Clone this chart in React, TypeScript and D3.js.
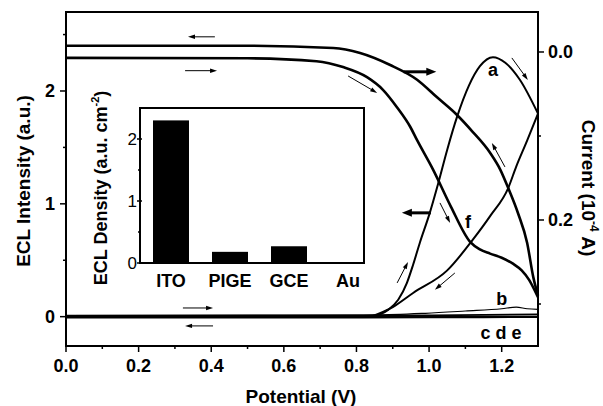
import React, { useEffect, useRef } from 'react';
import * as d3 from 'd3';

// main axes ticks
const xTicks = [0, 0.2, 0.4, 0.6, 0.8, 1.0, 1.2];
const xMinorTicks = [0.1, 0.3, 0.5, 0.7, 0.9, 1.1];
const leftTicks = [0, 1, 2];
const leftMinorTicks = [0.5, 1.5, 2.5];
const rightTicks = [0, 0.2];
const rightMinorTicks = [0.1, 0.3];

// ECL intensity (left axis) : [potential V, a.u.]
const eclAForward: [number, number][] = [
  [0.84, 0.0], [0.865, 0.02], [0.887, 0.06], [0.915, 0.15], [0.939, 0.3], [0.956, 0.46],
  [0.975, 0.66], [1.0, 0.9], [1.025, 1.18], [1.05, 1.48], [1.077, 1.77], [1.11, 2.05],
  [1.14, 2.22], [1.176, 2.3], [1.21, 2.25], [1.25, 2.1], [1.3, 1.8],
];
const eclAReverse: [number, number][] = [
  [0.84, 0.0], [0.9, 0.085], [0.956, 0.21], [1.05, 0.41], [1.12, 0.68], [1.17, 0.9],
  [1.218, 1.14], [1.24, 1.33], [1.27, 1.56], [1.3, 1.8],
];
const eclB: [number, number][] = [
  [0, 0.01], [0.85, 0.015], [0.99, 0.03], [1.1, 0.05], [1.2, 0.07], [1.24, 0.085],
  [1.27, 0.07], [1.3, 0.065],
];
const eclC: [number, number][] = [[0, 0.008], [0.6, 0.01], [1.0, 0.012], [1.3, 0.02]];
const eclD: [number, number][] = [[0, 0.0], [0.6, 0.0], [1.0, 0.0], [1.3, 0.0]];
const eclE: [number, number][] = [[0, -0.008], [0.6, -0.008], [1.0, -0.006], [1.3, -0.004]];

// current (right axis, 10^-4 A) : [potential V, current]
const currentForward: [number, number][] = [
  [0, 0.007], [0.5, 0.0075], [0.69, 0.011], [0.763, 0.018], [0.829, 0.03], [0.873, 0.045],
  [0.912, 0.066], [0.948, 0.089], [0.967, 0.105], [1.011, 0.14], [1.06, 0.184], [1.113, 0.226],
  [1.14, 0.235], [1.168, 0.24], [1.2, 0.245], [1.231, 0.252], [1.255, 0.26], [1.275, 0.271],
  [1.29, 0.283], [1.3, 0.292],
];
const currentReverse: [number, number][] = [
  [0, -0.0075], [0.5, -0.0075], [0.736, -0.0048], [0.81, 0.0012], [0.893, 0.0155],
  [0.967, 0.033], [1.022, 0.054], [1.077, 0.075], [1.12, 0.095], [1.168, 0.12], [1.196, 0.14],
  [1.218, 0.162], [1.245, 0.192], [1.27, 0.227], [1.287, 0.268], [1.3, 0.29],
];

// inset bar chart
const insetCategories = ['ITO', 'PIGE', 'GCE', 'Au'];
const insetValues = [2.3, 0.18, 0.27, 0];
const insetTicks = [0, 1, 2];
const insetMinorTicks = [0.5, 1.5];

// direction arrows in data units (left axis): from -> to
const arrows = [
  { from: [0.41, 2.48], to: [0.336, 2.48], thick: false },
  { from: [0.328, 2.18], to: [0.416, 2.18], thick: false },
  { from: [0.322, 0.077], to: [0.405, 0.077], thick: false },
  { from: [0.405, -0.082], to: [0.328, -0.082], thick: false },
  { from: [0.777, 2.133], to: [0.857, 1.983], thick: false },
  { from: [0.93, 2.17], to: [1.02, 2.17], thick: true },
  { from: [1.228, 2.293], to: [1.272, 2.098], thick: false },
  { from: [1.209, 1.327], to: [1.173, 1.539], thick: false },
  { from: [1.005, 0.92], to: [0.925, 0.92], thick: true },
  { from: [1.03, 1.008], to: [1.058, 0.83], thick: false },
  { from: [0.912, 0.299], to: [0.942, 0.485], thick: false },
  { from: [1.071, 0.387], to: [1.016, 0.238], thick: false },
];

const curveLabels = [
  { text: 'a', v: 1.176, i: 2.19 },
  { text: 'f', v: 1.107, i: 0.84 },
  { text: 'b', v: 1.2, i: 0.155 },
  { text: 'c d e', v: 1.198, i: -0.145 },
];

const font = '"Liberation Sans", Arial, Helvetica, sans-serif';

const App: React.FC = () => {
  const svgRef = useRef<SVGSVGElement>(null);

  useEffect(() => {
    if (!svgRef.current) return;
    const svg = d3.select(svgRef.current);
    svg.selectAll('*').remove();

    const left = 66, right = 538, top = 12, bottom = 346;

    const x = d3.scaleLinear().domain([0, 1.3]).range([left, right]);
    const yL = d3.scaleLinear().domain([-0.26, 2.7]).range([bottom, top]);
    const yR = d3.scaleLinear().domain([-0.0476, 0.35]).range([top, bottom]);

    svg.append('rect').attr('width', 603).attr('height', 406).attr('fill', '#fff');

    const g = svg.append('g');

    // curves
    const lineL = d3.line<[number, number]>()
      .x(d => x(d[0])).y(d => yL(d[1])).curve(d3.curveMonotoneX);
    const lineR = d3.line<[number, number]>()
      .x(d => x(d[0])).y(d => yR(d[1])).curve(d3.curveMonotoneX);

    [eclC, eclD, eclE].forEach(d => {
      g.append('path').attr('d', lineL(d)).attr('fill', 'none')
        .attr('stroke', '#000').attr('stroke-width', 1.8);
    });
    g.append('path').attr('d', lineL(eclB)).attr('fill', 'none')
      .attr('stroke', '#000').attr('stroke-width', 1.2);
    [eclAForward, eclAReverse].forEach(d => {
      g.append('path').attr('d', lineL(d)).attr('fill', 'none')
        .attr('stroke', '#000').attr('stroke-width', 2);
    });
    [currentForward, currentReverse].forEach(d => {
      g.append('path').attr('d', lineR(d)).attr('fill', 'none')
        .attr('stroke', '#000').attr('stroke-width', 2.6);
    });

    // arrows
    arrows.forEach(a => {
      const x1 = x(a.from[0]), y1 = yL(a.from[1]);
      const x2 = x(a.to[0]), y2 = yL(a.to[1]);
      const len = Math.hypot(x2 - x1, y2 - y1);
      const ux = (x2 - x1) / len, uy = (y2 - y1) / len;
      const hl = a.thick ? 10 : 7;
      const hw = a.thick ? 4 : 2.2;
      const bx = x2 - ux * hl, by = y2 - uy * hl;
      g.append('line')
        .attr('x1', x1).attr('y1', y1).attr('x2', bx + ux).attr('y2', by + uy)
        .attr('stroke', '#000').attr('stroke-width', a.thick ? 3 : 1);
      g.append('polygon')
        .attr('points', [
          [x2, y2],
          [bx - uy * hw, by + ux * hw],
          [bx + uy * hw, by - ux * hw],
        ].map(p => p.join(',')).join(' '))
        .attr('fill', '#000');
    });

    // curve labels
    curveLabels.forEach(l => {
      g.append('text')
        .attr('x', x(l.v)).attr('y', yL(l.i))
        .attr('text-anchor', 'middle').attr('dominant-baseline', 'central')
        .attr('font-family', font).attr('font-weight', 'bold').attr('font-size', 18)
        .text(l.text);
    });

    // frame
    svg.append('rect')
      .attr('x', left).attr('y', top).attr('width', right - left).attr('height', bottom - top)
      .attr('fill', 'none').attr('stroke', '#000').attr('stroke-width', 2);

    const axes = svg.append('g').attr('stroke', '#000').attr('stroke-width', 1.5);
    xTicks.forEach(t => axes.append('line').attr('x1', x(t)).attr('x2', x(t)).attr('y1', bottom).attr('y2', bottom + 6));
    xMinorTicks.forEach(t => axes.append('line').attr('x1', x(t)).attr('x2', x(t)).attr('y1', bottom).attr('y2', bottom + 3));
    leftTicks.forEach(t => axes.append('line').attr('x1', left - 6).attr('x2', left).attr('y1', yL(t)).attr('y2', yL(t)));
    leftMinorTicks.forEach(t => axes.append('line').attr('x1', left - 3).attr('x2', left).attr('y1', yL(t)).attr('y2', yL(t)));
    rightTicks.forEach(t => axes.append('line').attr('x1', right).attr('x2', right + 6).attr('y1', yR(t)).attr('y2', yR(t)));
    rightMinorTicks.forEach(t => axes.append('line').attr('x1', right).attr('x2', right + 3).attr('y1', yR(t)).attr('y2', yR(t)));

    const labels = svg.append('g')
      .attr('font-family', font).attr('font-weight', 'bold').attr('font-size', 18).attr('fill', '#000');
    xTicks.forEach(t => labels.append('text')
      .attr('x', x(t)).attr('y', 372).attr('text-anchor', 'middle').text(d3.format('.1f')(t)));
    leftTicks.forEach(t => labels.append('text')
      .attr('x', 55).attr('y', yL(t)).attr('dy', '0.35em').attr('text-anchor', 'end').text(String(t)));
    rightTicks.forEach(t => labels.append('text')
      .attr('x', 548).attr('y', yR(t)).attr('dy', '0.35em').attr('text-anchor', 'start').text(d3.format('.1f')(t)));

    labels.append('text').attr('x', 301).attr('y', 403).attr('text-anchor', 'middle')
      .attr('font-size', 19).text('Potential (V)');
    labels.append('text')
      .attr('transform', 'translate(30,181) rotate(-90)')
      .attr('text-anchor', 'middle').attr('font-size', 19).text('ECL Intensity (a.u.)');
    const rt = labels.append('text')
      .attr('transform', 'translate(582,188) rotate(90)')
      .attr('text-anchor', 'middle').attr('font-size', 19);
    rt.append('tspan').text('Current (10');
    rt.append('tspan').attr('font-size', 12).attr('dy', -8).text('-4');
    rt.append('tspan').attr('dy', 8).text(' A)');

    // inset
    const iLeft = 140, iRight = 364, iTop = 108, iBottom = 263;
    const ix = d3.scaleBand().domain(insetCategories).range([153, 366]).paddingInner(0.39).paddingOuter(0);
    const iy = d3.scaleLinear().domain([0, 2.5]).range([iBottom, iTop]);
    const inset = svg.append('g');
    inset.append('rect')
      .attr('x', iLeft).attr('y', iTop).attr('width', iRight - iLeft).attr('height', iBottom - iTop)
      .attr('fill', '#fff');
    inset.selectAll('rect.bar')
      .data(insetCategories)
      .enter()
      .append('rect')
      .attr('class', 'bar')
      .attr('x', d => ix(d) || 0)
      .attr('y', (d, i) => iy(insetValues[i]))
      .attr('width', ix.bandwidth())
      .attr('height', (d, i) => iBottom - iy(insetValues[i]))
      .attr('fill', '#000');
    inset.append('rect')
      .attr('x', iLeft).attr('y', iTop).attr('width', iRight - iLeft).attr('height', iBottom - iTop)
      .attr('fill', 'none').attr('stroke', '#000').attr('stroke-width', 2);
    insetTicks.forEach(t => inset.append('line').attr('x1', iLeft - 3).attr('x2', iLeft + 2)
      .attr('y1', iy(t)).attr('y2', iy(t)).attr('stroke', '#000').attr('stroke-width', 1.5));
    insetMinorTicks.forEach(t => inset.append('line').attr('x1', iLeft - 2).attr('x2', iLeft + 1)
      .attr('y1', iy(t)).attr('y2', iy(t)).attr('stroke', '#000').attr('stroke-width', 1.5));
    insetTicks.forEach(t => inset.append('text')
      .attr('x', 137).attr('y', iy(t)).attr('dy', '0.35em').attr('text-anchor', 'end')
      .attr('font-family', font).attr('font-size', 17).text(String(t)));
    insetCategories.forEach(c => inset.append('text')
      .attr('x', (ix(c) || 0) + ix.bandwidth() / 2).attr('y', 287).attr('text-anchor', 'middle')
      .attr('font-family', font).attr('font-weight', 'bold').attr('font-size', 18).text(c));
    const il = inset.append('text')
      .attr('transform', 'translate(107,188) rotate(-90)')
      .attr('text-anchor', 'middle')
      .attr('font-family', font).attr('font-weight', 'bold').attr('font-size', 18);
    il.append('tspan').text('ECL Density (a.u. cm');
    il.append('tspan').attr('font-size', 11).attr('dy', -8).text('-2');
    il.append('tspan').attr('dy', 8).text(')');
  }, []);

  return (
    <svg
      ref={svgRef}
      width={603}
      height={406}
      style={{ position: 'absolute', left: 0, top: 0 }}
    />
  );
};

export default App;
